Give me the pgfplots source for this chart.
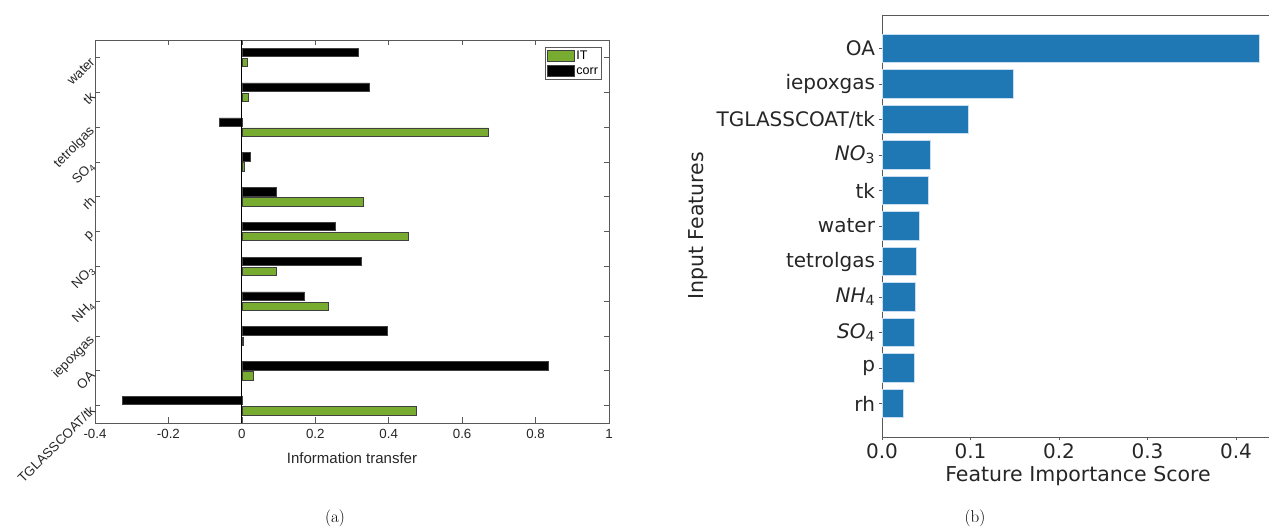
\documentclass[border=0pt]{standalone}
\usepackage{pgfplots}
\pgfplotsset{compat=1.18}
\usepackage{fontspec}
\newfontfamily\helv{Liberation Sans}
\newfontfamily\dejavu{DejaVu Sans}
\definecolor{itgreen}{rgb}{0.466,0.674,0.188}
\definecolor{mplblue}{HTML}{1F77B4}
\definecolor{axgray}{gray}{0.35}
\definecolor{edgeblue}{RGB}{200,222,240}

\begin{document}
\begin{tikzpicture}
\useasboundingbox (0pt,0pt) rectangle (1269pt,529pt);

% ---------------- (a) ----------------
\begin{axis}[
  at={(95pt,106pt)}, anchor=south west,
  width=514pt, height=383pt, scale only axis,
  xmin=-0.4, xmax=1, ymin=0.5, ymax=11.5,
  xtick={-0.4,-0.2,0,0.2,0.4,0.6,0.8,1},
  xticklabels={-0.4,-0.2,0,0.2,0.4,0.6,0.8,1},
  ytick={1,2,3,4,5,6,7,8,9,10,11},
  yticklabels={TGLASSCOAT/tk,OA,iepoxgas,NH\textsubscript{4},NO\textsubscript{3},p,rh,SO\textsubscript{4},tetrolgas,tk,water},
  tick align=inside, xtick pos=both, ytick pos=both,
  xticklabel pos=lower, yticklabel pos=left,
  major tick length=5.5pt,
  axis line style={axgray, line width=0.6pt},
  tick style={axgray, line width=0.6pt},
  ticklabel style={font=\helv\fontsize{13.3}{15}\selectfont, text=black!85},
  xticklabel style={yshift=-3pt},
  yticklabel style={rotate=45, anchor=east},
  xlabel={Information transfer},
  xlabel style={font=\helv\fontsize{15}{18}\selectfont, text=black!85, at={(axis description cs:0.5,-0.091)}, anchor=center},
  legend style={at={(axis description cs:0.986,0.982)}, anchor=north east,
    font=\helv\fontsize{12.5}{14}\selectfont, draw=axgray, line width=0.6pt,
    inner xsep=2pt, inner ysep=2.5pt, row sep=2.5pt,
    nodes={inner sep=1.5pt}},
  legend cell align=left,
  legend image code/.code={\draw[#1] (0pt,-5pt) rectangle (27pt,6pt);},
]
\addplot[xbar, bar width=0.24, bar shift=-0.145, fill=itgreen, draw=black!75, line width=0.6pt]
  coordinates {(0.476,1) (0.030,2) (0.004,3) (0.236,4) (0.094,5) (0.453,6) (0.330,7) (0.007,8) (0.672,9) (0.018,10) (0.016,11)};
\addlegendentry{IT}
\addplot[xbar, bar width=0.24, bar shift=0.145, fill=black, draw=black!75, line width=0.6pt]
  coordinates {(-0.326,1) (0.834,2) (0.396,3) (0.171,4) (0.326,5) (0.255,6) (0.095,7) (0.023,8) (-0.061,9) (0.347,10) (0.316,11)};
\addlegendentry{corr}
\addplot[black, line width=0.8pt, forget plot] coordinates {(0,0.5) (0,11.5)};
\end{axis}

% ---------------- (b) ----------------
\begin{axis}[
  at={(882pt,92pt)}, anchor=south west,
  width=392pt, height=422pt, scale only axis,
  xmin=0, xmax=0.443, ymin=-0.94, ymax=10.94,
  axis x line*=bottom, axis y line*=left,
  xtick={0,0.1,0.2,0.3,0.4},
  xticklabels={0.0,0.1,0.2,0.3,0.4},
  ytick={0,1,2,3,4,5,6,7,8,9,10},
  yticklabels={rh,p,{\itshape SO}\textsubscript{4},{\itshape NH}\textsubscript{4},tetrolgas,water,tk,{\itshape NO}\textsubscript{3},TGLASSCOAT/tk,iepoxgas,OA},
  tick align=outside,
  major tick length=3.5pt,
  axis line style={axgray, line width=0.8pt, -},
  tick style={axgray, line width=0.8pt},
  ticklabel style={font=\dejavu\fontsize{20}{24}\selectfont, text=black!85},
  xlabel={Feature Importance Score},
  ylabel={Input Features},
  xlabel style={font=\dejavu\fontsize{20.5}{24}\selectfont, text=black!85, at={(axis description cs:0.5,-0.092)}, anchor=center},
  ylabel style={font=\dejavu\fontsize{20.5}{24}\selectfont, text=black!85, at={(axis description cs:-0.47,0.5)}, anchor=center},
]
\addplot[xbar, bar width=0.8, fill=mplblue, draw=edgeblue, line width=0.9pt]
  coordinates {(0.0238,0) (0.0367,1) (0.037,2) (0.038,3) (0.0385,4) (0.042,5) (0.053,6) (0.055,7) (0.098,8) (0.148,9) (0.426,10)};
\draw[axgray, line width=0.8pt] (rel axis cs:0,1) -- (rel axis cs:1,1);
\end{axis}

\node[font=\fontsize{17}{20}\selectfont] at (335pt,11pt) {(a)};
\node[font=\fontsize{17}{20}\selectfont] at (975pt,11pt) {(b)};
\end{tikzpicture}
\end{document}
